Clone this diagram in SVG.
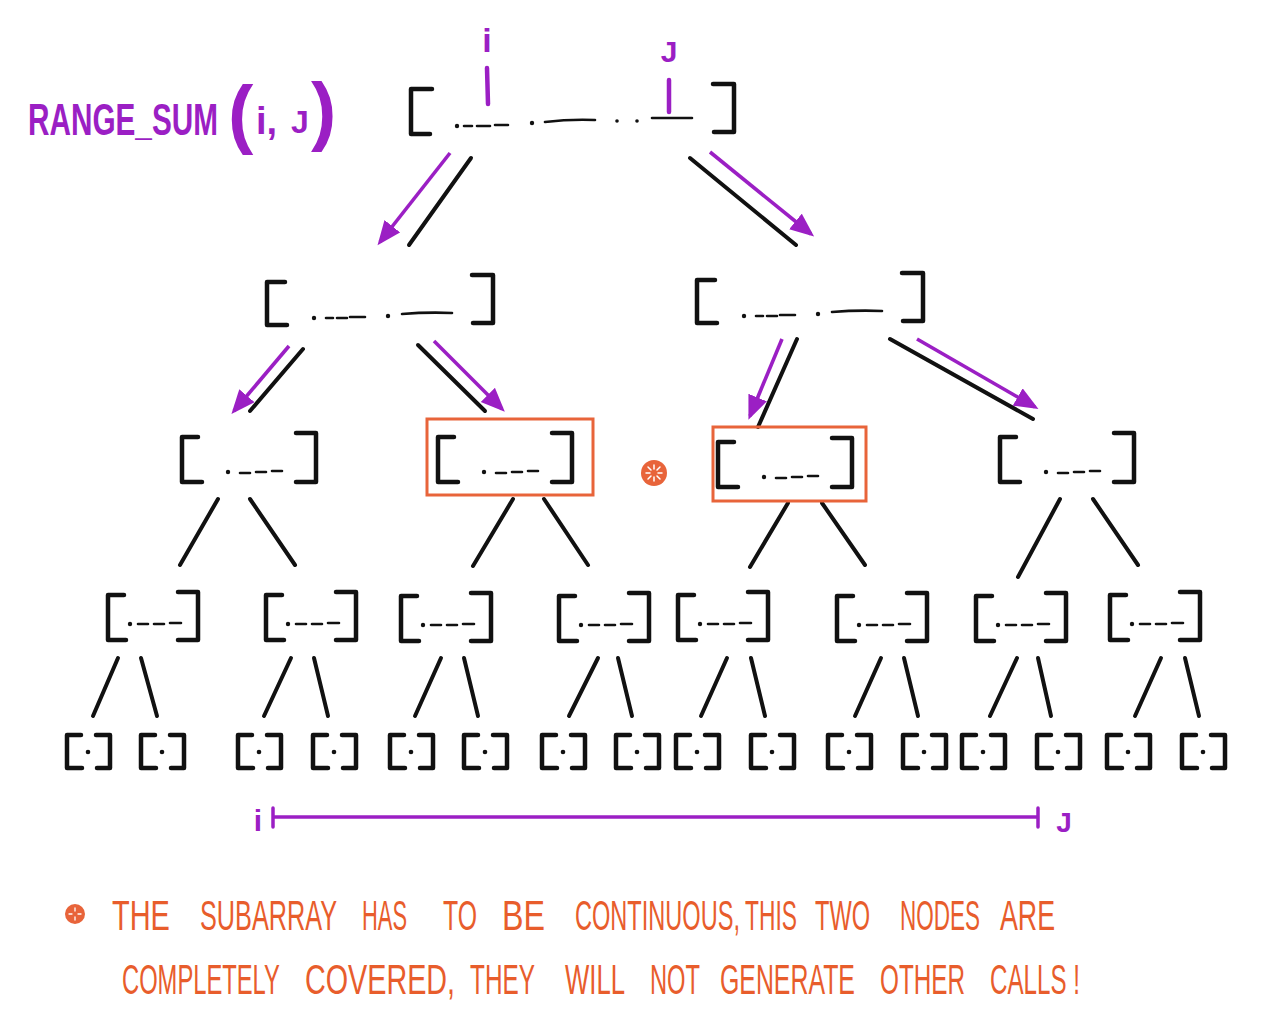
<svg xmlns="http://www.w3.org/2000/svg" xmlns:xlink="http://www.w3.org/1999/xlink" width="1280" height="1031" viewBox="0 0 1280 1031">
<style>
.br{fill:none;stroke:#111;stroke-width:4.5;stroke-linecap:round;stroke-linejoin:round}
.dl{fill:none;stroke:#111;stroke-width:2.6;stroke-linecap:round}
.ln{stroke:#111;stroke-width:4;stroke-linecap:round}
.pa{stroke:#9b1fc4;stroke-width:3.6;stroke-linecap:butt;marker-end:url(#ah)}
.pl{stroke:#9b1fc4;stroke-width:4.5;stroke-linecap:round}
.ob{fill:none;stroke:#e8643a;stroke-width:3}
.pt{fill:#9b1fc4;font-family:"Liberation Sans",Arial,sans-serif;font-weight:bold}
.ot{fill:#e85d2c;font-family:"Liberation Sans",Arial,sans-serif;font-size:42px}
.dot{fill:#111}
</style>
<defs>
<marker id="ah" markerUnits="userSpaceOnUse" markerWidth="26" markerHeight="22" refX="20" refY="10" orient="auto">
<path d="M0,0 L24,10 L0,20 z" fill="#9b1fc4"/>
</marker>
<g id="leaf">
<path class="br" d="M14,0 H0 V33 H15"/>
<path class="br" d="M29,0 H43 V33 H30"/>
<circle class="dot" cx="21" cy="17" r="2.3"/>
</g>
<g id="n4">
<path class="br" d="M16,3 H0 V48 H18"/>
<path class="br" d="M70,0 H90 V48 H70"/>
<circle class="dot" cx="22" cy="32" r="2.2"/>
<path class="dl" d="M30,32 H40 M46,32 H56 M62,31 H73"/>
</g>
<g id="n3">
<path class="br" d="M16,4 H0 V49 H20"/>
<path class="br" d="M114,0 H134 V49 H114"/>
<circle class="dot" cx="46" cy="39" r="2.2"/>
<path class="dl" d="M58,40 H68 M74,39 H84 M90,38 H100"/>
</g>
<g id="n2">
<path class="br" d="M18,7 H0 V50 H20"/>
<path class="br" d="M205,0 H226 V48 H206"/>
<circle class="dot" cx="47" cy="43" r="2.2"/>
<path class="dl" d="M59,43 H66 M70,43 H80 M83,42 H98 M135,39 Q160,37 185,38"/>
<circle class="dot" cx="121" cy="41" r="2.2"/>
</g>
</defs>
<rect width="1280" height="1031" fill="#fff"/>

<g id="title">
<text class="pt" transform="translate(28,135) scale(0.676,1)" font-size="44" textLength="281" lengthAdjust="spacingAndGlyphs">RANGE_SUM</text>
<text class="pt" x="228" y="139" font-size="76" font-weight="normal">(</text>
<text class="pt" x="256" y="134" font-size="38">i,</text>
<text class="pt" x="291" y="133" font-size="32">J</text>
<text class="pt" x="311" y="136" font-size="76" font-weight="normal">)</text>
</g>

<g id="connectors">
<line class="ln" x1="471" y1="158" x2="409" y2="245"/>
<line class="ln" x1="690" y1="158" x2="796" y2="245"/>
<line class="pa" x1="450" y1="153" x2="380" y2="242"/>
<line class="pa" x1="710" y1="152" x2="811" y2="234"/>

<line class="ln" x1="303" y1="349" x2="250" y2="411"/>
<line class="ln" x1="418" y1="345" x2="485" y2="411"/>
<line class="pa" x1="289" y1="346" x2="234" y2="411"/>
<line class="pa" x1="434" y1="341" x2="502" y2="409"/>

<line class="ln" x1="797" y1="339" x2="758" y2="427"/>
<line class="ln" x1="890" y1="339" x2="1033" y2="419"/>
<line class="pa" x1="782" y1="339" x2="750" y2="416"/>
<line class="pa" x1="917" y1="339" x2="1035" y2="407"/>

<line class="ln" x1="218" y1="499" x2="180" y2="565"/>
<line class="ln" x1="250" y1="499" x2="295" y2="565"/>
<line class="ln" x1="513" y1="499" x2="473" y2="566"/>
<line class="ln" x1="544" y1="499" x2="588" y2="565"/>
<line class="ln" x1="788" y1="503" x2="750" y2="567"/>
<line class="ln" x1="822" y1="503" x2="865" y2="565"/>
<line class="ln" x1="1060" y1="499" x2="1018" y2="577"/>
<line class="ln" x1="1093" y1="499" x2="1138" y2="565"/>

<line class="ln" x1="118" y1="658" x2="93" y2="716"/>
<line class="ln" x1="141" y1="658" x2="157" y2="716"/>
<line class="ln" x1="291" y1="658" x2="264" y2="716"/>
<line class="ln" x1="314" y1="658" x2="328" y2="716"/>
<line class="ln" x1="441" y1="658" x2="415" y2="716"/>
<line class="ln" x1="464" y1="658" x2="478" y2="716"/>
<line class="ln" x1="598" y1="658" x2="569" y2="716"/>
<line class="ln" x1="618" y1="658" x2="632" y2="716"/>
<line class="ln" x1="727" y1="658" x2="701" y2="716"/>
<line class="ln" x1="751" y1="658" x2="765" y2="716"/>
<line class="ln" x1="881" y1="658" x2="855" y2="716"/>
<line class="ln" x1="904" y1="658" x2="918" y2="716"/>
<line class="ln" x1="1017" y1="658" x2="990" y2="716"/>
<line class="ln" x1="1038" y1="658" x2="1051" y2="716"/>
<line class="ln" x1="1161" y1="658" x2="1135" y2="716"/>
<line class="ln" x1="1185" y1="658" x2="1199" y2="716"/>
</g>

<g id="root">
<path class="br" d="M432,89 H411 V134 H430"/>
<path class="br" d="M713,84 H734 V132 H714"/>
<circle class="dot" cx="457" cy="126" r="2.2"/>
<path class="dl" d="M464,126 H472 M477,126 H490 M495,125 H508 M545,122 Q570,119 595,120 M652,118 H692"/>
<circle class="dot" cx="532" cy="123" r="2.2"/>
<circle class="dot" cx="617" cy="121" r="1.8"/>
<circle class="dot" cx="637" cy="121" r="1.8"/>
<text class="pt" x="487" y="52" font-size="34" text-anchor="middle">i</text>
<line class="pl" x1="487" y1="68" x2="488" y2="104"/>
<text class="pt" x="669" y="62" font-size="30" text-anchor="middle">J</text>
<line class="pl" x1="669" y1="80" x2="669" y2="112"/>
</g>

<g id="node-l2-left"><use href="#n2" x="267" y="275"/></g>
<g id="node-l2-right"><use href="#n2" x="697" y="273"/></g>

<g id="node-l3-a"><use href="#n3" x="182" y="433"/></g>
<g id="node-l3-b"><rect class="ob" x="427" y="419" width="166" height="76"/><use href="#n3" x="438" y="433"/></g>
<g id="node-l3-c"><rect class="ob" x="713" y="427" width="153" height="74"/><use href="#n3" x="718" y="438"/></g>
<g id="node-l3-d"><use href="#n3" x="1000" y="433"/></g>

<g id="star-mid">
<circle cx="654" cy="473" r="13" fill="#e8643a"/>
<path d="M654,465 V469 M654,477 V481 M646,473 H650 M658,473 H662 M648,467 L651,470 M657,476 L660,479 M660,467 L657,470 M651,476 L648,479" stroke="#fff" stroke-width="1.5" stroke-linecap="round"/>
</g>

<g id="node-l4-1"><use href="#n4" x="108" y="592"/></g>
<g id="node-l4-2"><use href="#n4" x="266" y="592"/></g>
<g id="node-l4-3"><use href="#n4" x="401" y="593"/></g>
<g id="node-l4-4"><use href="#n4" x="559" y="593"/></g>
<g id="node-l4-5"><use href="#n4" x="678" y="592"/></g>
<g id="node-l4-6"><use href="#n4" x="837" y="593"/></g>
<g id="node-l4-7"><use href="#n4" x="976" y="593"/></g>
<g id="node-l4-8"><use href="#n4" x="1110" y="592"/></g>

<g id="leaf-1"><use href="#leaf" x="67" y="735"/></g>
<g id="leaf-2"><use href="#leaf" x="141" y="735"/></g>
<g id="leaf-3"><use href="#leaf" x="238" y="735"/></g>
<g id="leaf-4"><use href="#leaf" x="313" y="735"/></g>
<g id="leaf-5"><use href="#leaf" x="390" y="735"/></g>
<g id="leaf-6"><use href="#leaf" x="464" y="735"/></g>
<g id="leaf-7"><use href="#leaf" x="542" y="735"/></g>
<g id="leaf-8"><use href="#leaf" x="616" y="735"/></g>
<g id="leaf-9"><use href="#leaf" x="676" y="735"/></g>
<g id="leaf-10"><use href="#leaf" x="751" y="735"/></g>
<g id="leaf-11"><use href="#leaf" x="828" y="735"/></g>
<g id="leaf-12"><use href="#leaf" x="903" y="735"/></g>
<g id="leaf-13"><use href="#leaf" x="962" y="735"/></g>
<g id="leaf-14"><use href="#leaf" x="1037" y="735"/></g>
<g id="leaf-15"><use href="#leaf" x="1107" y="735"/></g>
<g id="leaf-16"><use href="#leaf" x="1182" y="735"/></g>

<g id="range">
<text class="pt" x="258" y="831" font-size="30" text-anchor="middle">i</text>
<line stroke="#9b1fc4" stroke-width="3.5" x1="273" y1="817" x2="1038" y2="817"/>
<line stroke="#9b1fc4" stroke-width="3.5" stroke-linecap="round" x1="273" y1="808" x2="273" y2="827"/>
<line stroke="#9b1fc4" stroke-width="3.5" stroke-linecap="round" x1="1038" y1="808" x2="1038" y2="827"/>
<text class="pt" x="1064" y="832" font-size="28" text-anchor="middle">J</text>
</g>

<g id="note">
<circle cx="75" cy="914" r="10" fill="#e8643a"/>
<path d="M75,908 V911 M75,917 V920 M69,914 H72 M78,914 H81" stroke="#fff" stroke-width="1.3" stroke-linecap="round"/>
<text class="ot" transform="translate(112,930) scale(0.690,1)" textLength="84" lengthAdjust="spacingAndGlyphs">THE</text>
<text class="ot" transform="translate(200,930) scale(0.593,1)" textLength="231" lengthAdjust="spacingAndGlyphs">SUBARRAY</text>
<text class="ot" transform="translate(362,930) scale(0.521,1)" textLength="86.4" lengthAdjust="spacingAndGlyphs">HAS</text>
<text class="ot" transform="translate(443,930) scale(0.583,1)" textLength="58.3" lengthAdjust="spacingAndGlyphs">TO</text>
<text class="ot" transform="translate(502,930) scale(0.768,1)" textLength="56" lengthAdjust="spacingAndGlyphs">BE</text>
<text class="ot" transform="translate(575,930) scale(0.561,1)" textLength="294" lengthAdjust="spacingAndGlyphs">CONTINUOUS,</text>
<text class="ot" transform="translate(745,930) scale(0.543,1)" textLength="95.7" lengthAdjust="spacingAndGlyphs">THIS</text>
<text class="ot" transform="translate(815,930) scale(0.561,1)" textLength="98" lengthAdjust="spacingAndGlyphs">TWO</text>
<text class="ot" transform="translate(900,930) scale(0.536,1)" textLength="149.4" lengthAdjust="spacingAndGlyphs">NODES</text>
<text class="ot" transform="translate(1000,930) scale(0.637,1)" textLength="86.4" lengthAdjust="spacingAndGlyphs">ARE</text>
<text class="ot" transform="translate(122,994) scale(0.559,1)" textLength="282.4" lengthAdjust="spacingAndGlyphs">COMPLETELY</text>
<text class="ot" transform="translate(305,994) scale(0.684,1)" textLength="219.4" lengthAdjust="spacingAndGlyphs">COVERED,</text>
<text class="ot" transform="translate(470,994) scale(0.580,1)" textLength="112" lengthAdjust="spacingAndGlyphs">THEY</text>
<text class="ot" transform="translate(565,994) scale(0.612,1)" textLength="98" lengthAdjust="spacingAndGlyphs">WILL</text>
<text class="ot" transform="translate(650,994) scale(0.564,1)" textLength="88.7" lengthAdjust="spacingAndGlyphs">NOT</text>
<text class="ot" transform="translate(720,994) scale(0.584,1)" textLength="231" lengthAdjust="spacingAndGlyphs">GENERATE</text>
<text class="ot" transform="translate(880,994) scale(0.578,1)" textLength="147" lengthAdjust="spacingAndGlyphs">OTHER</text>
<text class="ot" transform="translate(990,994) scale(0.575,1)" textLength="156.4" lengthAdjust="spacingAndGlyphs">CALLS !</text>
</g>
</svg>
